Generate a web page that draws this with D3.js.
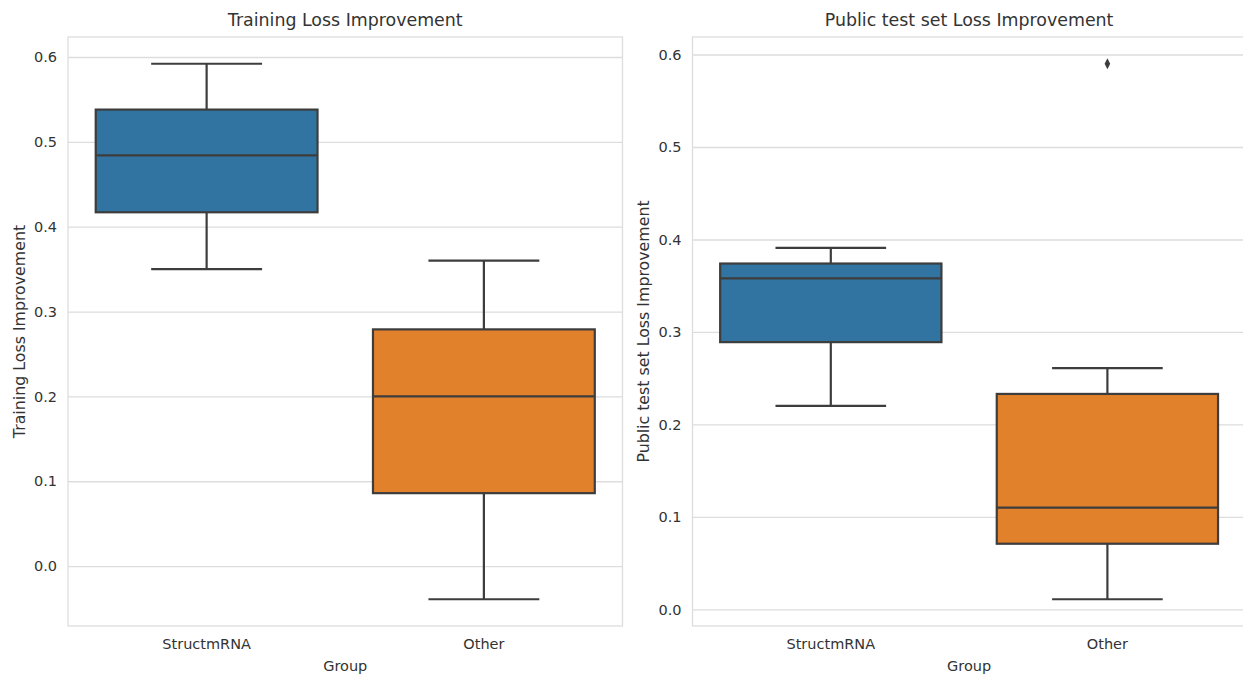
<!DOCTYPE html>
<html>
<head>
<meta charset="utf-8">
<script src="https://cdn.jsdelivr.net/npm/d3@7"></script>
<style>
  html, body { margin: 0; padding: 0; background: #ffffff; }
  svg { display: block; font-family: "DejaVu Sans", sans-serif; }
</style>
</head>
<body>
<svg id="chart" width="1243" height="676"></svg>
<script>
// Groups on the x axis
const groups = ["StructmRNA", "Other"];
const fillColors = ["#3274a1", "#e1812c"];

// Training loss improvement: box-plot summary per group
const trainLowerWhisker = [0.350, -0.039];
const trainQ1 = [0.417, 0.086];
const trainMedian = [0.484, 0.200];
const trainQ3 = [0.538, 0.279];
const trainUpperWhisker = [0.592, 0.360];
const trainOutliers = [[], []];

// Public test set loss improvement: box-plot summary per group
const testLowerWhisker = [0.220, 0.011];
const testQ1 = [0.289, 0.071];
const testMedian = [0.358, 0.110];
const testQ3 = [0.374, 0.233];
const testUpperWhisker = [0.391, 0.261];
const testOutliers = [[], [0.590]];

const yTicks = [0.0, 0.1, 0.2, 0.3, 0.4, 0.5, 0.6];

const svg = d3.select("#chart");
const lineColor = "#3d3d3d";
const gridColor = "#dddddd";
const textColor = "#333333";

function panel(opts) {
  const { x0, x1, y0, y1, title, yLabel, lo, q1, med, q3, hi, outliers } = opts;
  const rows = groups.map((g, i) => ({
    group: g, lo: lo[i], q1: q1[i], med: med[i], q3: q3[i], hi: hi[i],
    outliers: outliers[i], color: fillColors[i]
  }));

  // y domain: full data extent with a 5% margin on each side
  const all = rows.flatMap(r => [r.lo, r.hi, ...r.outliers]);
  const [mn, mx] = d3.extent(all);
  const pad = (mx - mn) * 0.05;
  const y = d3.scaleLinear().domain([mn - pad, mx + pad]).range([y1, y0]);
  const x = d3.scaleBand().domain(groups).range([x0, x1]).padding(0);
  const bw = x.bandwidth() * 0.8;
  const cx = g => x(g) + x.bandwidth() / 2;

  const g = svg.append("g");

  // horizontal grid + tick labels
  const yAxis = d3.axisLeft(y).tickValues(yTicks).tickFormat(d3.format(".1f"))
    .tickSize(-(x1 - x0)).tickPadding(11);
  const ya = g.append("g").attr("transform", `translate(${x0},0)`).call(yAxis);
  ya.select(".domain").remove();
  ya.selectAll(".tick line").attr("stroke", gridColor).attr("stroke-width", 1.3);
  ya.selectAll(".tick text").attr("fill", textColor).attr("font-size", 14.5)
    .attr("font-family", "DejaVu Sans, sans-serif");

  // category labels
  const xAxis = d3.axisBottom(x).tickSize(0).tickPadding(13);
  const xa = g.append("g").attr("transform", `translate(0,${y1})`).call(xAxis);
  xa.select(".domain").remove();
  xa.selectAll(".tick text").attr("fill", textColor).attr("font-size", 14.5)
    .attr("font-family", "DejaVu Sans, sans-serif");

  // axes frame
  g.append("rect").attr("x", x0).attr("y", y0)
    .attr("width", x1 - x0).attr("height", y1 - y0)
    .attr("fill", "none").attr("stroke", gridColor).attr("stroke-width", 1.3);

  // boxes
  const box = g.selectAll("g.box").data(rows).join("g").attr("class", "box");
  box.append("line")
    .attr("x1", d => cx(d.group)).attr("x2", d => cx(d.group))
    .attr("y1", d => y(d.q3)).attr("y2", d => y(d.hi))
    .attr("stroke", lineColor).attr("stroke-width", 2.2);
  box.append("line")
    .attr("x1", d => cx(d.group)).attr("x2", d => cx(d.group))
    .attr("y1", d => y(d.q1)).attr("y2", d => y(d.lo))
    .attr("stroke", lineColor).attr("stroke-width", 2.2);
  box.append("line")
    .attr("x1", d => cx(d.group) - bw / 4).attr("x2", d => cx(d.group) + bw / 4)
    .attr("y1", d => y(d.hi)).attr("y2", d => y(d.hi))
    .attr("stroke", lineColor).attr("stroke-width", 2.2);
  box.append("line")
    .attr("x1", d => cx(d.group) - bw / 4).attr("x2", d => cx(d.group) + bw / 4)
    .attr("y1", d => y(d.lo)).attr("y2", d => y(d.lo))
    .attr("stroke", lineColor).attr("stroke-width", 2.2);
  box.append("rect")
    .attr("x", d => cx(d.group) - bw / 2).attr("width", bw)
    .attr("y", d => y(d.q3)).attr("height", d => y(d.q1) - y(d.q3))
    .attr("fill", d => d.color).attr("stroke", lineColor).attr("stroke-width", 2.2);
  box.append("line")
    .attr("x1", d => cx(d.group) - bw / 2).attr("x2", d => cx(d.group) + bw / 2)
    .attr("y1", d => y(d.med)).attr("y2", d => y(d.med))
    .attr("stroke", lineColor).attr("stroke-width", 2.2);

  // outliers as thin diamonds
  const flier = rows.flatMap(r => r.outliers.map(v => ({ group: r.group, v })));
  g.selectAll("path.flier").data(flier).join("path").attr("class", "flier")
    .attr("d", d => {
      const px = cx(d.group), py = y(d.v);
      return `M${px},${py - 5.5}L${px + 2.8},${py}L${px},${py + 5.5}L${px - 2.8},${py}Z`;
    })
    .attr("fill", lineColor);

  // titles and axis labels
  g.append("text").attr("x", (x0 + x1) / 2).attr("y", 26)
    .attr("text-anchor", "middle").attr("font-size", 17.4).attr("fill", textColor)
    .text(title);
  g.append("text").attr("x", (x0 + x1) / 2).attr("y", 671)
    .attr("text-anchor", "middle").attr("font-size", 14.5).attr("fill", textColor)
    .text("Group");
  g.append("text")
    .attr("transform", `translate(${x0 - 49},${(y0 + y1) / 2}) rotate(-90)`)
    .attr("text-anchor", "middle").attr("dy", "0.35em").attr("font-size", 15.8).attr("fill", textColor)
    .text(yLabel);
}

panel({
  x0: 68, x1: 622.5, y0: 37, y1: 626,
  title: "Training Loss Improvement", yLabel: "Training Loss Improvement",
  lo: trainLowerWhisker, q1: trainQ1, med: trainMedian, q3: trainQ3, hi: trainUpperWhisker,
  outliers: trainOutliers
});

panel({
  x0: 692.5, x1: 1245.7, y0: 37, y1: 626,
  title: "Public test set Loss Improvement", yLabel: "Public test set Loss Improvement",
  lo: testLowerWhisker, q1: testQ1, med: testMedian, q3: testQ3, hi: testUpperWhisker,
  outliers: testOutliers
});
</script>
</body>
</html>
